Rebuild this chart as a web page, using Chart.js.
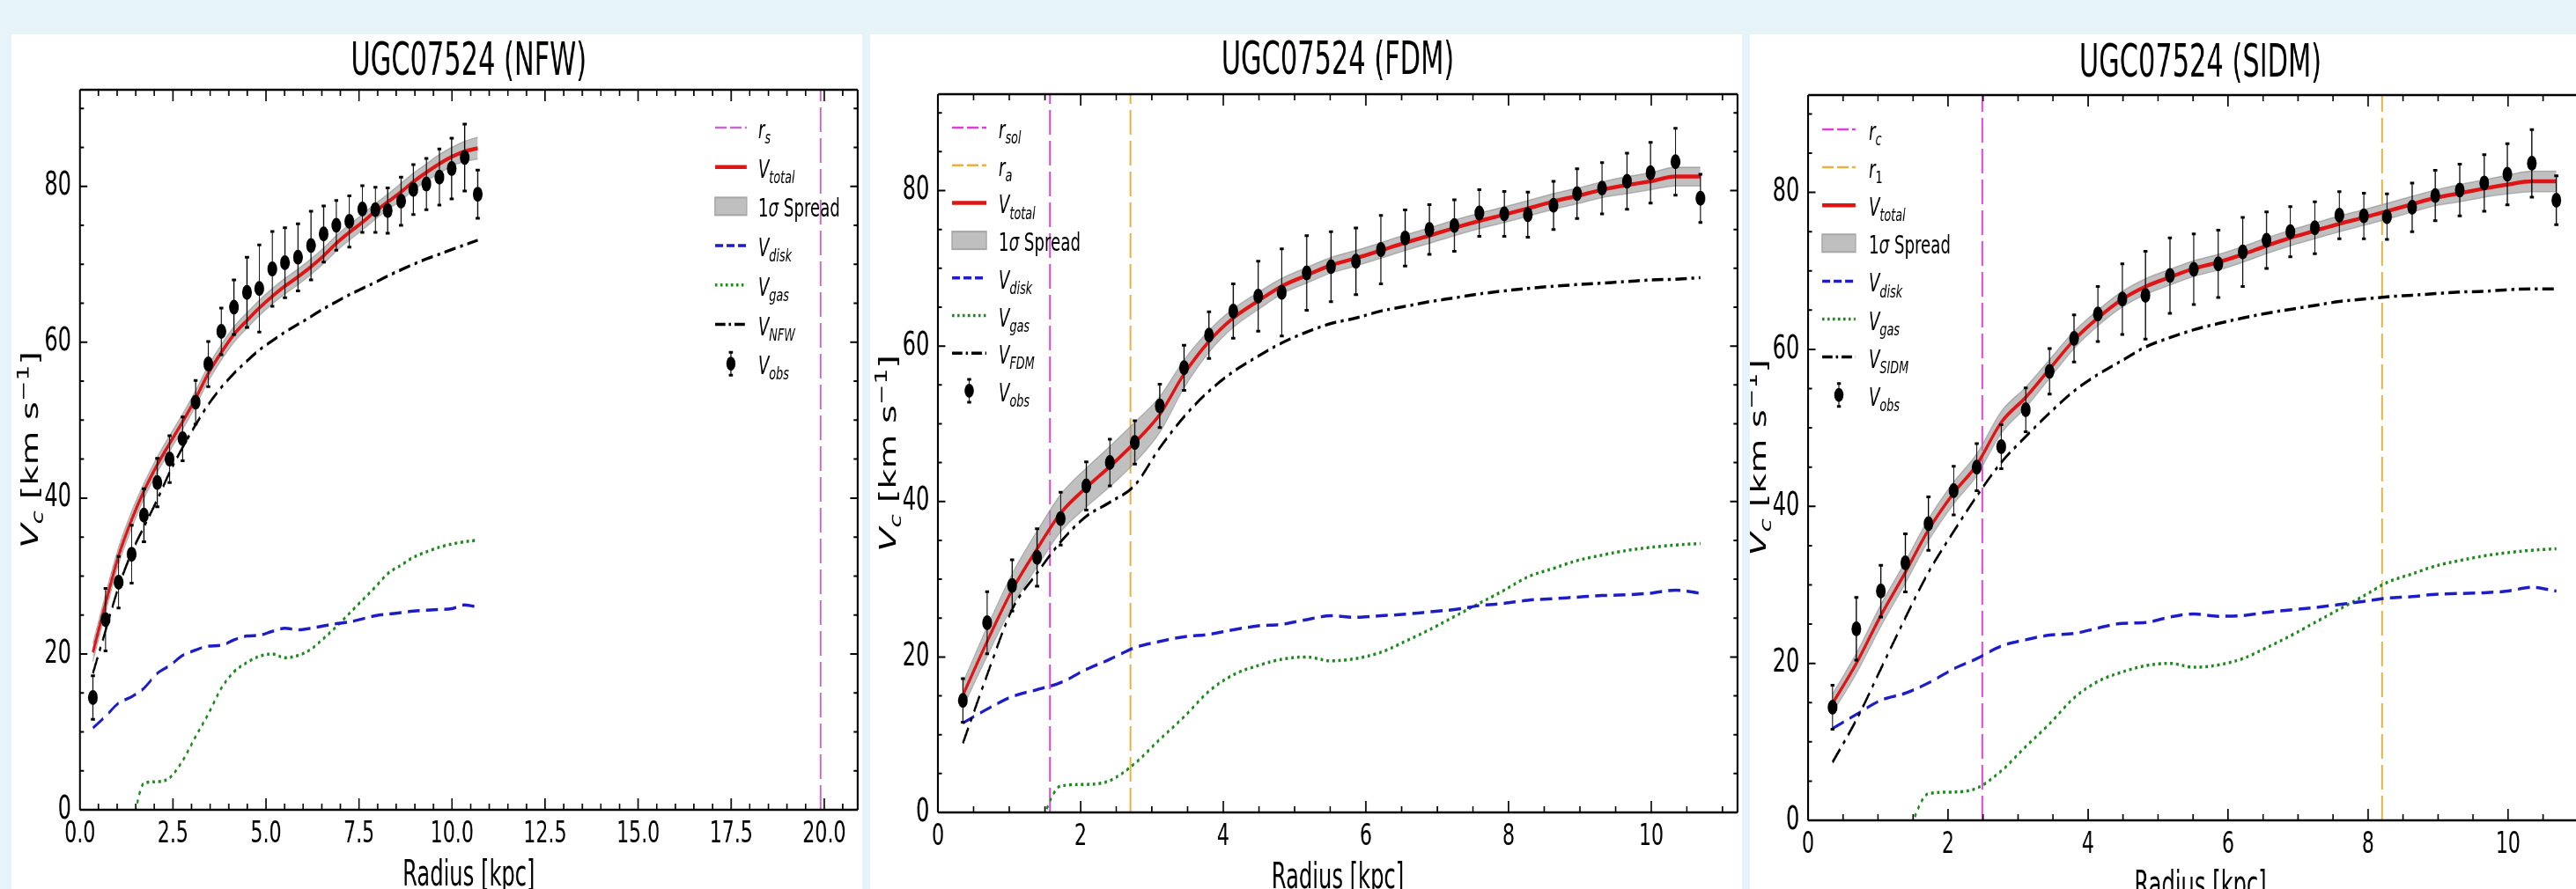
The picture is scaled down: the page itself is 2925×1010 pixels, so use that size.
<!DOCTYPE html>
<html>
<head>
<meta charset="utf-8">
<script src="https://cdn.jsdelivr.net/npm/chart.js@4.4.1/dist/chart.umd.min.js"></script>
<style>
html, body { margin: 0; padding: 0; width: 2925px; height: 1010px; overflow: hidden; background: #e6f3f9; }
.panel { position: absolute; top: 39px; height: 971px; background: #fff; overflow: hidden; }
.squash { position: absolute; left: 0; top: 0; transform-origin: 0 0; }
canvas { display: block; }
</style>
</head>
<body>
<div class="panel" style="left:13px;width:966px"><div class="squash"><canvas id="c1"></canvas></div></div>
<div class="panel" style="left:988px;width:990px"><div class="squash"><canvas id="c2"></canvas></div></div>
<div class="panel" style="left:1987px;width:938px"><div class="squash"><canvas id="c3"></canvas></div></div>
<script>
// Observed rotation curve (shared by all three fits)
const radius = [0.35, 0.69, 1.04, 1.39, 1.72, 2.08, 2.41, 2.76, 3.11, 3.45, 3.80, 4.14, 4.49, 4.82, 5.17, 5.51,
                5.86, 6.21, 6.55, 6.89, 7.24, 7.59, 7.94, 8.27, 8.63, 8.96, 9.31, 9.66, 9.99, 10.34, 10.69];
const vObs = [14.4, 24.4, 29.2, 32.8, 37.8, 42.0, 45.0, 47.6, 52.3, 57.2, 61.4, 64.5, 66.4, 66.9, 69.4, 70.2,
              70.9, 72.4, 73.9, 75.0, 75.5, 77.1, 77.0, 76.9, 78.1, 79.6, 80.3, 81.2, 82.3, 83.7, 79.0];
const vErr = [2.8, 4.0, 3.3, 3.7, 3.4, 3.1, 3.0, 2.8, 2.8, 2.9, 3.0, 3.5, 4.5, 5.6, 4.8, 4.5,
              4.3, 4.4, 3.6, 3.2, 3.3, 3.0, 2.9, 2.9, 3.1, 3.2, 3.3, 3.6, 3.9, 4.3, 3.1];
const vGas = [null, null, null, -2.5, 3.4, 3.6, 4.1, 6.3, 9.4, 12.3, 15.6, 17.7, 18.9, 19.7, 20.0, 19.5,
              19.8, 20.6, 22.0, 23.5, 25.2, 26.9, 28.6, 30.3, 31.4, 32.4, 33.1, 33.7, 34.1, 34.4, 34.6];

// NFW fit
const nfwTotal = [20.2, 26.5, 32.6, 37.2, 40.9, 44.3, 47.0, 49.8, 52.8, 56.0, 58.7, 61.0, 62.8, 64.4, 65.9, 67.2,
                  68.4, 69.7, 71.1, 72.7, 74.1, 75.4, 76.8, 78.0, 79.3, 80.6, 81.8, 82.9, 83.8, 84.5, 84.9];
const nfwHalo = [17.5, 23.0, 28.6, 33.0, 36.3, 39.8, 43.3, 46.5, 49.4, 52.0, 54.2, 56.0, 57.6, 59.0, 60.2, 61.3,
                 62.3, 63.3, 64.3, 65.2, 66.1, 66.9, 67.7, 68.5, 69.3, 70.0, 70.7, 71.3, 71.9, 72.5, 73.1];
const nfwDisk = [10.5, 12.0, 13.7, 14.5, 15.6, 17.5, 18.5, 19.8, 20.5, 21.0, 21.1, 21.8, 22.3, 22.4, 22.9, 23.3,
                 23.1, 23.3, 23.6, 23.9, 24.1, 24.5, 24.9, 25.1, 25.3, 25.5, 25.6, 25.7, 25.8, 26.3, 26.0];
const nfwSpread = [1.2, 1.2, 1.1, 1.1, 1.0, 1.0, 1.0, 1.0, 1.0, 1.0, 1.0, 1.0, 1.0, 1.0, 1.0, 1.0,
                   1.0, 1.0, 1.0, 1.0, 1.0, 1.0, 1.0, 1.0, 1.1, 1.1, 1.1, 1.2, 1.2, 1.3, 1.4];
const rS = 19.9;

// FDM fit
const fdmTotal = [15.1, 22.0, 28.6, 33.9, 38.5, 41.8, 44.5, 47.6, 51.2, 56.4, 60.6, 63.6, 65.8, 67.7, 69.1, 70.4,
                  71.3, 72.3, 73.3, 74.2, 75.2, 76.1, 76.9, 77.7, 78.6, 79.3, 80.1, 80.7, 81.2, 81.8, 81.8];
const fdmHalo = [8.9, 17.7, 26.1, 30.8, 34.8, 38.1, 39.9, 42.1, 46.9, 50.9, 54.2, 56.7, 58.7, 60.4, 61.8, 62.9,
                 63.6, 64.5, 65.1, 65.7, 66.2, 66.7, 67.1, 67.4, 67.7, 67.9, 68.1, 68.3, 68.5, 68.6, 68.8];
const fdmDisk = [11.5, 13.3, 14.9, 15.8, 16.7, 18.4, 19.7, 21.2, 22.0, 22.6, 22.9, 23.5, 24.0, 24.2, 24.8, 25.3,
                 25.1, 25.3, 25.5, 25.8, 26.1, 26.6, 26.9, 27.3, 27.5, 27.7, 27.9, 28.0, 28.2, 28.6, 28.2];
const fdmSpread = [1.6, 1.9, 2.1, 2.3, 2.4, 2.5, 2.6, 2.6, 2.3, 1.8, 1.4, 1.2, 1.1, 1.0, 1.0, 1.0,
                   1.0, 1.0, 1.0, 1.0, 1.0, 1.0, 1.0, 1.0, 1.0, 1.0, 1.0, 1.1, 1.1, 1.2, 1.2];
const rSol = 1.57, rA = 2.70;

// SIDM fit
const sidmTotal = [14.9, 20.0, 26.1, 31.6, 37.0, 41.7, 45.3, 50.7, 53.9, 57.5, 61.2, 64.0, 66.4, 68.0, 69.2, 70.3,
                   71.1, 72.1, 73.2, 74.2, 75.1, 76.0, 76.8, 77.6, 78.5, 79.3, 79.9, 80.5, 81.0, 81.4, 81.4];
const sidmHalo = [7.4, 12.8, 19.3, 25.8, 31.6, 36.8, 41.3, 45.6, 48.9, 51.9, 54.7, 56.8, 58.6, 60.3, 61.5, 62.5,
                  63.3, 64.0, 64.6, 65.1, 65.6, 66.1, 66.4, 66.7, 66.9, 67.1, 67.3, 67.4, 67.6, 67.7, 67.7];
const sidmDisk = [11.7, 13.5, 15.3, 16.2, 17.5, 19.3, 20.6, 22.2, 23.0, 23.6, 23.8, 24.5, 25.1, 25.2, 25.9, 26.3,
                  26.0, 26.1, 26.5, 26.8, 27.1, 27.5, 27.9, 28.3, 28.5, 28.8, 28.9, 29.0, 29.2, 29.7, 29.2];
const sidmSpread = [1.2, 1.3, 1.4, 1.4, 1.4, 1.4, 1.4, 1.4, 1.3, 1.2, 1.1, 1.0, 1.0, 1.0, 1.0, 1.0,
                    1.0, 1.0, 1.0, 1.0, 1.0, 1.0, 1.0, 1.0, 1.0, 1.0, 1.1, 1.1, 1.2, 1.3, 1.3];
const rC = 2.49, r1 = 8.20;

// Axis ticks
const yTicks = [0, 20, 40, 60, 80];
const nfwXTicks = [0, 2.5, 5, 7.5, 10, 12.5, 15, 17.5, 20];
const smallXTicks = [0, 2, 4, 6, 8, 10];

const K = 0.65;          // the figure is squashed horizontally
const TOP = 39, H = 971;
const Y_MAX = 92.4;
const FONT = '"DejaVu Sans"';

const RED = '#e01414', BLUE = '#1c1cc8', GREEN = '#1a8a1a', MAGENTA = '#e03ce0', ORANGE = '#e8b040';

function pts(ys, off) {
    const out = [];
    radius.forEach((r, i) => {
        if (ys[i] !== null) out.push({ x: r, y: ys[i] + (off ? off[i] : 0) });
    });
    return out;
}

function lineSet(data, color, width, dash, extra) {
    return Object.assign({
        data: data, borderColor: color, borderWidth: width, borderDash: dash || [],
        showLine: true, pointRadius: 0, pointHoverRadius: 0, fill: false,
        cubicInterpolationMode: 'monotone', borderCapStyle: 'butt'
    }, extra || {});
}

// draw a run of text pieces (italic / sub / sup)
function drawRich(ctx, pieces, x, y, size, align) {
    let w = 0;
    const items = pieces.map(p => {
        const s = (p.sub || p.sup) ? size * 0.7 : size;
        const font = (p.i ? 'italic ' : '') + s + 'px ' + FONT;
        ctx.font = font;
        const m = ctx.measureText(p.t).width;
        w += m;
        return { t: p.t, font: font, w: m, dy: p.sub ? size * 0.22 : (p.sup ? -size * 0.42 : 0) };
    });
    let cx = align === 'center' ? x - w / 2 : x;
    ctx.textAlign = 'left';
    ctx.textBaseline = 'alphabetic';
    items.forEach(it => {
        ctx.font = it.font;
        ctx.fillText(it.t, cx, y + it.dy);
        cx += it.w;
    });
}

function drawHandle(ctx, e, x0, x1, y) {
    ctx.save();
    if (e.kind === 'band') {
        ctx.fillStyle = '#bfbfbf';
        ctx.strokeStyle = '#a6a6a6';
        ctx.lineWidth = 2;
        ctx.fillRect(x0, y - 10, x1 - x0, 20);
        ctx.strokeRect(x0, y - 10, x1 - x0, 20);
    } else if (e.kind === 'obs') {
        const xm = (x0 + x1) / 2;
        ctx.strokeStyle = '#000';
        ctx.fillStyle = '#000';
        ctx.lineWidth = 1.8;
        ctx.beginPath(); ctx.moveTo(xm, y - 13); ctx.lineTo(xm, y + 13); ctx.stroke();
        ctx.lineWidth = 3;
        ctx.beginPath();
        ctx.moveTo(xm - 3.5, y - 13); ctx.lineTo(xm + 3.5, y - 13);
        ctx.moveTo(xm - 3.5, y + 13); ctx.lineTo(xm + 3.5, y + 13);
        ctx.stroke();
        ctx.beginPath(); ctx.arc(xm, y, 8, 0, Math.PI * 2); ctx.fill();
    } else {
        ctx.strokeStyle = e.color;
        ctx.lineWidth = e.width;
        ctx.setLineDash(e.dash || []);
        ctx.beginPath(); ctx.moveTo(x0, y); ctx.lineTo(x1, y); ctx.stroke();
    }
    ctx.restore();
}

function buildPanel(p) {
    const canvas = document.getElementById(p.id);
    const W = Math.round((p.boxRight - p.boxLeft) / K);
    canvas.width = W;
    canvas.height = H;
    canvas.style.width = W + 'px';
    canvas.style.height = H + 'px';
    canvas.parentNode.style.transform = 'scaleX(' + K + ')';

    const yAxisW = (p.L - p.boxLeft) / K;
    const padRight = (p.boxRight - p.R) / K;
    const padTop = p.T - TOP;
    const xAxisH = TOP + H - p.B;

    const datasets = [
        lineSet(pts(p.total), RED, 4.5),
        lineSet(pts(p.halo), '#000', 3.5, [20, 8, 5, 8]),
        lineSet(pts(p.disk), BLUE, 3.5, [21, 11]),
        lineSet(pts(vGas), GREEN, 3.5, [4.5, 5.8]),
        lineSet(pts(p.total, p.spread), 'rgba(130,130,130,0.55)', 1.5, [], {
            fill: '+1', backgroundColor: 'rgba(150,150,150,0.6)'
        }),
        lineSet(pts(p.total, p.spread.map(v => -v)), 'rgba(130,130,130,0.55)', 1.5)
    ];
    p.vlines.forEach(v => {
        datasets.push(lineSet([{ x: v.x, y: 0 }, { x: v.x, y: Y_MAX }], v.color, 3, [28, 7],
            { cubicInterpolationMode: 'default', tension: 0 }));
    });

    const decor = {
        id: 'decor' + p.id,
        afterDatasetsDraw(chart) {
            const ctx = chart.ctx;
            const xs = chart.scales.x, ys = chart.scales.y;
            ctx.save();
            ctx.strokeStyle = '#000';
            ctx.fillStyle = '#000';
            radius.forEach((r, i) => {
                const px = xs.getPixelForValue(r);
                const py = ys.getPixelForValue(vObs[i]);
                const top = ys.getPixelForValue(vObs[i] + vErr[i]);
                const bot = ys.getPixelForValue(vObs[i] - vErr[i]);
                ctx.lineWidth = 1.8;
                ctx.beginPath(); ctx.moveTo(px, top); ctx.lineTo(px, bot); ctx.stroke();
                ctx.lineWidth = 3;
                ctx.beginPath();
                ctx.moveTo(px - 3.5, top); ctx.lineTo(px + 3.5, top);
                ctx.moveTo(px - 3.5, bot); ctx.lineTo(px + 3.5, bot);
                ctx.stroke();
                ctx.beginPath(); ctx.arc(px, py, 8.5, 0, Math.PI * 2); ctx.fill();
            });
            ctx.restore();
        },
        afterDraw(chart) {
            const ctx = chart.ctx;
            const a = chart.chartArea;
            const xs = chart.scales.x, ys = chart.scales.y;
            ctx.save();
            ctx.strokeStyle = '#000';
            ctx.fillStyle = '#000';

            // inward ticks, all four sides
            ctx.lineWidth = 2.5;
            for (let n = 0; n * 0.5 <= p.xMax; n++) {
                const v = n * 0.5;
                const major = Math.abs(v / p.xStep - Math.round(v / p.xStep)) < 1e-6;
                const len = major ? 13 : 7;
                const px = xs.getPixelForValue(v);
                ctx.beginPath();
                ctx.moveTo(px, a.bottom); ctx.lineTo(px, a.bottom - len);
                ctx.moveTo(px, a.top); ctx.lineTo(px, a.top + len);
                ctx.stroke();
            }
            ctx.lineWidth = 2;
            for (let v = 0; v <= Y_MAX; v += 5) {
                const len = v % 20 === 0 ? 13 : 7;
                const py = ys.getPixelForValue(v);
                ctx.beginPath();
                ctx.moveTo(a.left, py); ctx.lineTo(a.left + len, py);
                ctx.moveTo(a.right, py); ctx.lineTo(a.right - len, py);
                ctx.stroke();
            }

            // frame
            ctx.lineWidth = 2.4;
            ctx.beginPath();
            ctx.moveTo(a.left, a.top); ctx.lineTo(a.right, a.top);
            ctx.moveTo(a.left, a.bottom); ctx.lineTo(a.right, a.bottom);
            ctx.stroke();
            ctx.lineWidth = 3.2;
            ctx.beginPath();
            ctx.moveTo(a.left, a.top); ctx.lineTo(a.left, a.bottom);
            ctx.moveTo(a.right, a.top); ctx.lineTo(a.right, a.bottom);
            ctx.stroke();

            // title
            const cx = (a.left + a.right) / 2;
            ctx.save();
            ctx.translate(cx, p.titleY - TOP);
            ctx.scale(0.9, 1);
            ctx.font = '52px ' + FONT;
            ctx.textAlign = 'center';
            ctx.textBaseline = 'alphabetic';
            ctx.fillText(p.title, 0, 0);
            ctx.restore();

            // x label
            ctx.save();
            ctx.translate(cx, p.B + 86 - TOP);
            ctx.scale(0.93, 1);
            ctx.font = '40px ' + FONT;
            ctx.textAlign = 'center';
            ctx.fillText('Radius [kpc]', 0, 0);
            ctx.restore();

            // y label
            ctx.save();
            ctx.translate(a.left - 56 / K + 13, (a.top + a.bottom) / 2);
            ctx.rotate(-Math.PI / 2);
            drawRich(ctx, [{ t: 'V', i: 1 }, { t: 'c', i: 1, sub: 1 }, { t: ' [km s' }, { t: '\u22121', sup: 1 }, { t: ']' }],
                0, 0, 40, 'center');
            ctx.restore();

            // legend
            const lg = p.legend;
            const anchor = lg.side === 'right' ? a.right : a.left;
            const h0 = anchor + lg.hs / K, h1 = anchor + lg.he / K, tx = anchor + lg.tx / K;
            p.entries.forEach((e, i) => {
                const y = a.top + lg.y0 + i * lg.dy;
                drawHandle(ctx, e, h0, h1, y);
                drawRich(ctx, e.label, tx, y + 12, 28, 'left');
            });
            ctx.restore();
        }
    };

    new Chart(canvas, {
        type: 'scatter',
        data: { datasets: datasets },
        options: {
            responsive: false,
            animation: false,
            devicePixelRatio: 1,
            events: [],
            layout: { padding: { left: 0, right: padRight, top: padTop, bottom: 0 } },
            plugins: { legend: { display: false }, tooltip: { enabled: false }, title: { display: false } },
            scales: {
                x: {
                    type: 'linear', min: 0, max: p.xMax,
                    grid: { display: false, drawTicks: false },
                    border: { display: false },
                    afterBuildTicks: s => { s.ticks = p.xTicks.map(v => ({ value: v })); },
                    afterFit: s => { s.height = xAxisH; },
                    ticks: {
                        autoSkip: false, maxRotation: 0, padding: 8, color: '#000',
                        font: { family: 'DejaVu Sans', size: 34 },
                        callback: v => v.toFixed(p.xDecimals)
                    }
                },
                y: {
                    type: 'linear', min: 0, max: Y_MAX,
                    grid: { display: false, drawTicks: false },
                    border: { display: false },
                    afterBuildTicks: s => { s.ticks = yTicks.map(v => ({ value: v })); },
                    afterFit: s => { s.width = yAxisW; },
                    ticks: {
                        autoSkip: false, padding: 15, color: '#000',
                        font: { family: 'DejaVu Sans', size: 37 },
                        callback: v => String(v)
                    }
                }
            }
        },
        plugins: [decor]
    });
}

const lbl = {
    total: { kind: 'line', color: RED, width: 4.5, label: [{ t: 'V', i: 1 }, { t: 'total', i: 1, sub: 1 }] },
    band: { kind: 'band', label: [{ t: '1' }, { t: '\u03c3', i: 1 }, { t: ' Spread' }] },
    disk: { kind: 'line', color: BLUE, width: 3.5, dash: [14, 6], label: [{ t: 'V', i: 1 }, { t: 'disk', i: 1, sub: 1 }] },
    gas: { kind: 'line', color: GREEN, width: 3.5, dash: [4, 5.2], label: [{ t: 'V', i: 1 }, { t: 'gas', i: 1, sub: 1 }] },
    obs: { kind: 'obs', label: [{ t: 'V', i: 1 }, { t: 'obs', i: 1, sub: 1 }] }
};
function halo(name) {
    return { kind: 'line', color: '#000', width: 3.5, dash: [18, 6, 4, 6], label: [{ t: 'V', i: 1 }, { t: name, i: 1, sub: 1 }] };
}
function rline(color, sub, italic) {
    return { kind: 'line', color: color, width: 2.5, dash: [20, 6], label: [{ t: 'r', i: 1 }, { t: sub, i: italic, sub: 1 }] };
}

buildPanel({
    id: 'c1', boxLeft: 13, boxRight: 979, L: 90.7, R: 974, T: 102, B: 920, titleY: 85,
    title: 'UGC07524 (NFW)', xMax: 20.9, xStep: 2.5, xTicks: nfwXTicks, xDecimals: 1,
    total: nfwTotal, halo: nfwHalo, disk: nfwDisk, spread: nfwSpread,
    vlines: [{ x: rS, color: '#c46ac8' }],
    legend: { side: 'right', hs: -162, he: -126, tx: -113, y0: 43, dy: 44.7 },
    entries: [rline('#c46ac8', 's', 1), lbl.total, lbl.band, lbl.disk, lbl.gas, halo('NFW'), lbl.obs]
});

buildPanel({
    id: 'c2', boxLeft: 988, boxRight: 1978, L: 1065, R: 1973, T: 107, B: 923, titleY: 84,
    title: 'UGC07524 (FDM)', xMax: 11.21, xStep: 2, xTicks: smallXTicks, xDecimals: 0,
    total: fdmTotal, halo: fdmHalo, disk: fdmDisk, spread: fdmSpread,
    vlines: [{ x: rSol, color: MAGENTA }, { x: rA, color: ORANGE }],
    legend: { side: 'left', hs: 16, he: 55, tx: 69, y0: 38, dy: 42.7 },
    entries: [rline(MAGENTA, 'sol', 1), rline(ORANGE, 'a', 1), lbl.total, lbl.band, lbl.disk, lbl.gas, halo('FDM'), lbl.obs]
});

buildPanel({
    id: 'c3', boxLeft: 1987, boxRight: 2949, L: 2053, R: 2944, T: 108, B: 932, titleY: 87,
    title: 'UGC07524 (SIDM)', xMax: 11.21, xStep: 2, xTicks: smallXTicks, xDecimals: 0,
    total: sidmTotal, halo: sidmHalo, disk: sidmDisk, spread: sidmSpread,
    vlines: [{ x: rC, color: MAGENTA }, { x: r1, color: ORANGE }],
    legend: { side: 'left', hs: 16, he: 54, tx: 69, y0: 39, dy: 43.1 },
    entries: [rline(MAGENTA, 'c', 1), rline(ORANGE, '1', 0), lbl.total, lbl.band, lbl.disk, lbl.gas, halo('SIDM'), lbl.obs]
});
</script>
</body>
</html>
